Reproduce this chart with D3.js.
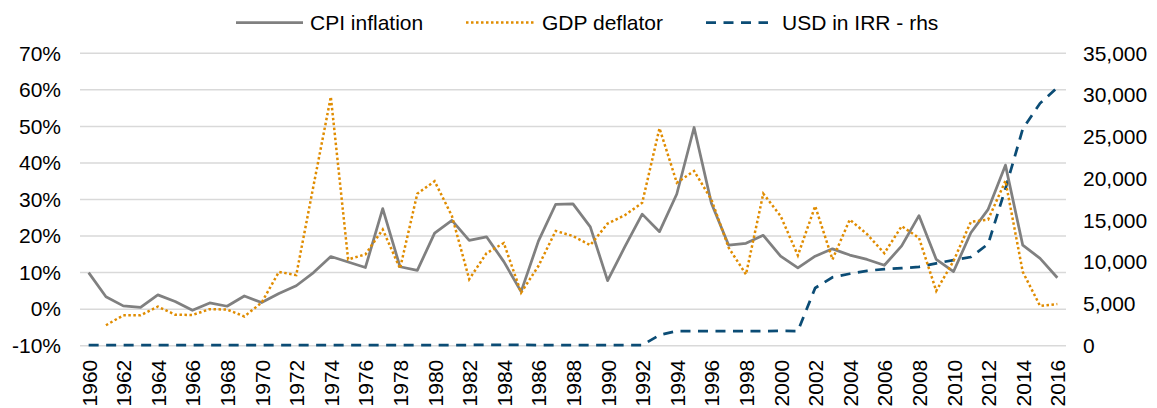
<!DOCTYPE html>
<html>
<head>
<meta charset="utf-8">
<script src="https://cdn.jsdelivr.net/npm/d3@7"></script>
<style>
  html, body { margin: 0; padding: 0; background: #fff; }
  svg { display: block; font-family: "Liberation Sans", Arial, sans-serif; }
</style>
</head>
<body>
<svg id="chart" width="1157" height="408"></svg>
<script>
const years = d3.range(1960, 2017);
const yearTickLabels = years.filter(y => y % 2 === 0).map(String);

const cpiInflation = [
  10.0, 3.4, 0.9, 0.5, 3.9, 2.1, -0.3, 1.7, 0.8, 3.6,
  1.8, 4.3, 6.4, 10.0, 14.4, 12.9, 11.4, 27.5, 11.6, 10.6,
  20.8, 24.3, 18.8, 19.8, 13.0, 4.8, 18.6, 28.7, 28.8, 22.5,
  7.8, 17.1, 26.0, 21.2, 31.5, 49.7, 29.0, 17.5, 18.0, 20.2,
  14.5, 11.3, 14.5, 16.5, 14.8, 13.6, 12.0, 17.3, 25.6, 13.6,
  10.3, 20.9, 27.3, 39.4, 17.5, 13.9, 8.6
];

const gdpDeflator = [
  null, -4.4, -1.7, -1.7, 0.7, -1.5, -1.6, 0.0, -0.1, -2.0,
  1.8, 10.2, 9.3, 33.8, 58.1, 13.6, 15.0, 21.8, 11.1, 31.6,
  35.0, 25.5, 8.2, 15.3, 18.1, 4.5, 11.8, 21.4, 20.0, 17.5,
  23.4, 25.7, 29.1, 49.5, 34.6, 37.8, 30.0, 16.8, 9.5, 31.6,
  25.5, 14.7, 28.2, 13.6, 24.5, 20.5, 15.3, 22.7, 19.5, 5.0,
  13.2, 23.9, 24.5, 35.1, 10.2, 0.9, 1.4
];

const usdInIrr = [
  75.8, 75.8, 75.8, 75.8, 75.8, 75.8, 75.8, 75.8, 75.8, 75.8,
  75.8, 75.2, 75.8, 68.9, 67.6, 67.6, 70.2, 70.6, 70.5, 70.5,
  70.6, 78.3, 83.6, 86.4, 90.0, 91.0, 78.8, 71.5, 68.7, 72.0,
  68.1, 67.5, 65.6, 1268, 1749, 1748, 1751, 1753, 1752, 1753,
  1764, 1754, 6907, 8194, 8614, 8964, 9171, 9281, 9429, 9864,
  10254, 10616, 12176, 18800, 25942, 29011, 30915
];

const leftTicks = [-10, 0, 10, 20, 30, 40, 50, 60, 70];
const rightTicks = [0, 5000, 10000, 15000, 20000, 25000, 30000, 35000];

const seriesNames = ["CPI inflation", "GDP deflator", "USD in IRR - rhs"];

const svg = d3.select("#chart");
const plotLeft = 80, plotRight = 1066, plotTop = 53.3, plotBottom = 345.7;
const fontSize = 21;

const x = d3.scalePoint().domain(years).range([plotLeft, plotRight]).padding(0.5);
const yL = d3.scaleLinear().domain([-10, 70]).range([plotBottom, plotTop]);
const yR = d3.scaleLinear().domain([0, 35000]).range([plotBottom, plotTop]);

// gridlines
svg.append("g").selectAll("line").data(leftTicks).join("line")
  .attr("x1", plotLeft).attr("x2", plotRight)
  .attr("y1", d => yL(d)).attr("y2", d => yL(d))
  .attr("stroke", "#d9d9d9").attr("stroke-width", 1.5);

// left axis
const leftAxis = d3.axisLeft(yL).tickValues(leftTicks).tickFormat(d => d + "%").tickSize(0).tickPadding(0);
const gL = svg.append("g").attr("transform", `translate(61,0)`).call(leftAxis);
gL.select(".domain").remove();
gL.selectAll("text").attr("font-size", fontSize).attr("fill", "#000")
  .attr("font-family", "'Liberation Sans', Arial, sans-serif");

// right axis
const rightAxis = d3.axisRight(yR).tickValues(rightTicks).tickFormat(d3.format(",")).tickSize(0).tickPadding(0);
const gR = svg.append("g").attr("transform", `translate(1083,0)`).call(rightAxis);
gR.select(".domain").remove();
gR.selectAll("text").attr("font-size", fontSize).attr("fill", "#000")
  .attr("font-family", "'Liberation Sans', Arial, sans-serif");

// x axis labels (rotated)
const xAxis = d3.axisBottom(x).tickValues(years.filter(y => yearTickLabels.includes(String(y))))
  .tickFormat(d => String(d)).tickSize(0).tickPadding(0);
const gX = svg.append("g").attr("transform", `translate(0,${plotBottom})`).call(xAxis);
gX.select(".domain").remove();
gX.selectAll("text")
  .attr("font-size", fontSize).attr("fill", "#000")
  .attr("font-family", "'Liberation Sans', Arial, sans-serif")
  .attr("text-anchor", "end")
  .attr("dy", null)
  .attr("y", 0)
  .attr("transform", "translate(7.5,14) rotate(-90)");

// lines
const lineL = d3.line().defined(d => d[1] !== null).x(d => x(d[0])).y(d => yL(d[1]));
const lineR = d3.line().x(d => x(d[0])).y(d => yR(d[1]));

const styles = [
  { color: "#808080", width: 2.75, dash: null },
  { color: "#e08c00", width: 2.5, dash: "2.5,2.5" },
  { color: "#0b4c75", width: 2.75, dash: "10,7.5" }
];

svg.append("path").datum(years.map((y, i) => [y, usdInIrr[i]]))
  .attr("d", lineR).attr("fill", "none")
  .attr("stroke", styles[2].color).attr("stroke-width", styles[2].width)
  .attr("stroke-dasharray", styles[2].dash);

svg.append("path").datum(years.map((y, i) => [y, cpiInflation[i]]))
  .attr("d", lineL).attr("fill", "none")
  .attr("stroke", styles[0].color).attr("stroke-width", styles[0].width)
  .attr("stroke-linejoin", "round");

svg.append("path").datum(years.map((y, i) => [y, gdpDeflator[i]]))
  .attr("d", lineL).attr("fill", "none")
  .attr("stroke", styles[1].color).attr("stroke-width", styles[1].width)
  .attr("stroke-dasharray", styles[1].dash);

// legend
const legendItems = [
  { x1: 236, x2: 303, tx: 310 },
  { x1: 466, x2: 535, tx: 542 },
  { x1: 706, x2: 768, tx: 782 }
];
const leg = svg.append("g");
legendItems.forEach((it, i) => {
  leg.append("line").attr("x1", it.x1).attr("x2", it.x2).attr("y1", 22.5).attr("y2", 22.5)
    .attr("stroke", styles[i].color).attr("stroke-width", styles[i].width)
    .attr("stroke-dasharray", styles[i].dash);
  leg.append("text").attr("x", it.tx).attr("y", 30).attr("font-size", fontSize)
    .attr("fill", "#000").text(seriesNames[i]);
});
</script>
</body>
</html>
